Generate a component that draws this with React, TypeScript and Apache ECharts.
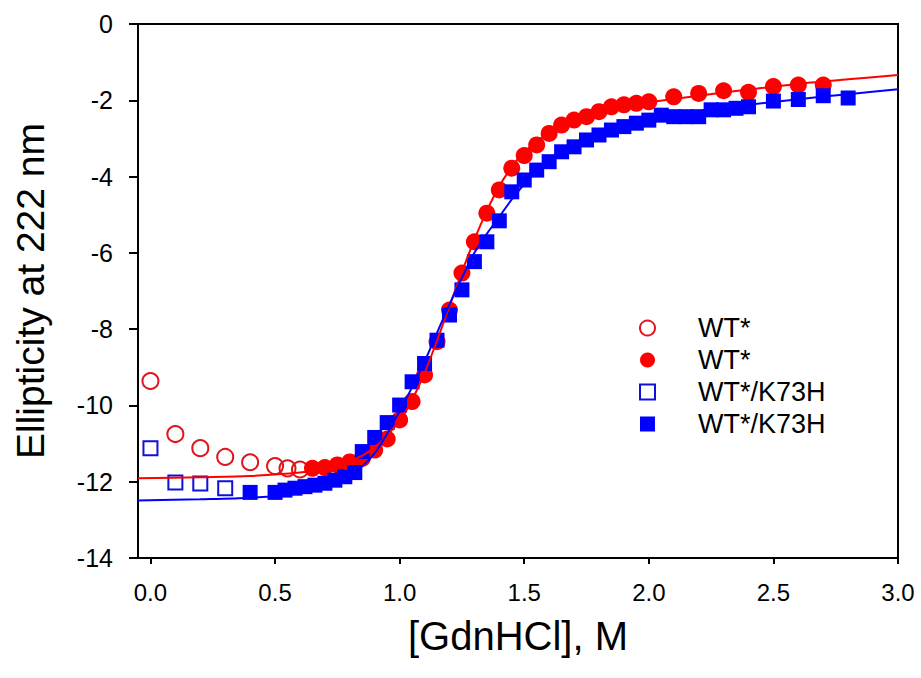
import React, { useEffect, useRef } from "react";
import * as echarts from "echarts";

// Tick positions
const xTicks = [0, 0.5, 1.0, 1.5, 2.0, 2.5, 3.0];

// WT* open circles
const wtOpenX = [0, 0.1, 0.2, 0.3, 0.4, 0.5, 0.55, 0.6];
const wtOpenY = [-9.36, -10.75, -11.12, -11.35, -11.49, -11.59, -11.65, -11.68];

// WT* filled circles
const wtX = [0.65, 0.7, 0.75, 0.8, 0.85, 0.9, 0.95, 1.0, 1.05, 1.1, 1.15, 1.2, 1.25, 1.3, 1.35, 1.4, 1.45, 1.5, 1.55, 1.6, 1.65, 1.7, 1.75, 1.8, 1.85, 1.9, 1.95, 2.0, 2.1, 2.2, 2.3, 2.4, 2.5, 2.6, 2.7];
const wtY = [-11.65, -11.63, -11.56, -11.48, -11.39, -11.17, -10.88, -10.38, -9.9, -9.2, -8.33, -7.5, -6.53, -5.71, -4.96, -4.35, -3.78, -3.45, -3.17, -2.87, -2.65, -2.52, -2.43, -2.3, -2.17, -2.12, -2.08, -2.04, -1.91, -1.82, -1.75, -1.79, -1.64, -1.6, -1.6];

// WT*/K73H open squares
const mutOpenX = [0, 0.1, 0.2, 0.3];
const mutOpenY = [-11.12, -12.02, -12.05, -12.17];

// WT*/K73H filled squares
const mutX = [0.4, 0.5, 0.54, 0.58, 0.62, 0.66, 0.7, 0.74, 0.78, 0.82, 0.85, 0.9, 0.95, 1.0, 1.05, 1.1, 1.15, 1.2, 1.25, 1.3, 1.35, 1.4, 1.45, 1.5, 1.55, 1.6, 1.65, 1.7, 1.75, 1.8, 1.85, 1.9, 1.95, 2.0, 2.05, 2.1, 2.15, 2.2, 2.25, 2.3, 2.35, 2.4, 2.5, 2.6, 2.7, 2.8];
const mutY = [-12.28, -12.28, -12.22, -12.17, -12.13, -12.09, -12.04, -11.96, -11.87, -11.76, -11.21, -10.84, -10.45, -9.99, -9.38, -8.9, -8.29, -7.63, -6.97, -6.23, -5.71, -5.16, -4.4, -4.09, -3.83, -3.61, -3.35, -3.22, -3.04, -2.91, -2.78, -2.69, -2.6, -2.52, -2.39, -2.43, -2.43, -2.43, -2.25, -2.25, -2.21, -2.17, -2.02, -1.98, -1.88, -1.94];

// Fit curves
const wtFitX = [-0.05, 0.2, 0.4, 0.6, 0.7, 0.8, 0.9, 1.0, 1.05, 1.1, 1.15, 1.2, 1.25, 1.3, 1.35, 1.4, 1.45, 1.5, 1.6, 1.7, 1.8, 1.9, 2.0, 2.2, 2.4, 2.6, 2.8, 3.0];
const wtFitY = [-11.91, -11.88, -11.85, -11.76, -11.66, -11.47, -11.1, -10.4, -9.85, -9.15, -8.3, -7.4, -6.5, -5.65, -4.9, -4.25, -3.75, -3.35, -2.85, -2.52, -2.3, -2.15, -2.05, -1.88, -1.72, -1.57, -1.45, -1.34];

const mutFitX = [-0.05, 0.2, 0.4, 0.6, 0.7, 0.8, 0.9, 1.0, 1.1, 1.15, 1.2, 1.25, 1.3, 1.35, 1.4, 1.45, 1.5, 1.6, 1.7, 1.8, 1.9, 2.0, 2.2, 2.4, 2.6, 2.8, 3.0];
const mutFitY = [-12.49, -12.46, -12.42, -12.3, -12.15, -11.85, -11.25, -10.15, -8.85, -8.1, -7.35, -6.65, -6.0, -5.5, -5.05, -4.6, -4.2, -3.55, -3.12, -2.85, -2.65, -2.5, -2.28, -2.12, -1.97, -1.84, -1.71];

const zip = (xs: number[], ys: number[]) => xs.map((x, i) => [x, ys[i]]);

const FONT = "Liberation Sans, Arial, sans-serif";
const RED = "#ff0000";
const BLUE = "#0000ff";

export default function App() {
  const ref = useRef<HTMLDivElement>(null);
  useEffect(() => {
    const chart = echarts.init(ref.current!, null, { renderer: "svg" });
    chart.setOption({
      animation: false,
      backgroundColor: "#ffffff",
      textStyle: { fontFamily: FONT },
      grid: {
        left: 138,
        right: 23,
        top: 24,
        bottom: 120,
        show: true,
        borderColor: "#000",
        borderWidth: 2,
        backgroundColor: "transparent",
      },
      legend: {
        orient: "vertical",
        left: 634,
        top: 307,
        itemWidth: 15,
        itemHeight: 15,
        itemGap: 0,
        data: ["WT*", "WT* ", "WT*/K73H", "WT*/K73H "],
        formatter: (n: string) => "{t|" + n.trim() + "}",
        textStyle: {
          fontSize: 27,
          color: "#000",
          fontFamily: FONT,
          lineHeight: 32,
          rich: {
            t: { fontSize: 27, color: "#000", fontFamily: FONT, lineHeight: 32, padding: [0, 0, 0, 38] },
          },
        },
      },
      xAxis: {
        type: "value",
        min: -0.05,
        max: 3.0,
        name: "[GdnHCl], M",
        nameLocation: "middle",
        nameGap: 58,
        nameTextStyle: { fontSize: 40, color: "#000", fontFamily: FONT },
        axisLine: { onZero: false, lineStyle: { color: "#000", width: 2 } },
        axisTick: { customValues: xTicks, length: 6, lineStyle: { color: "#000", width: 2 } },
        axisLabel: {
          customValues: xTicks,
          formatter: (v: number) => v.toFixed(1),
          fontSize: 24,
          color: "#000",
          margin: 22,
          fontFamily: FONT,
        },
        splitLine: { show: false },
      },
      yAxis: {
        type: "value",
        min: -14,
        max: 0,
        interval: 2,
        name: "Ellipticity at 222 nm",
        nameLocation: "middle",
        nameGap: 88,
        nameTextStyle: { fontSize: 39, color: "#000", fontFamily: FONT },
        axisLine: { onZero: false, lineStyle: { color: "#000", width: 2 } },
        axisTick: { length: 9, lineStyle: { color: "#000", width: 2 } },
        axisLabel: { fontSize: 25, color: "#000", margin: 25, fontFamily: FONT },
        splitLine: { show: false },
      },
      series: [
        {
          name: "WT*",
          type: "scatter",
          data: zip(wtOpenX, wtOpenY),
          symbol: "circle",
          symbolSize: 16,
          itemStyle: { color: "rgba(255,255,255,0)", borderColor: "#e0141c", borderWidth: 2, opacity: 1 },
          z: 3,
        },
        {
          name: "WT* ",
          type: "scatter",
          data: zip(wtX, wtY),
          symbol: "circle",
          symbolSize: 17,
          itemStyle: { color: RED, opacity: 1 },
          z: 3,
        },
        {
          name: "WT*/K73H",
          type: "scatter",
          data: zip(mutOpenX, mutOpenY),
          symbol: "rect",
          symbolSize: 14,
          itemStyle: { color: "rgba(255,255,255,0)", borderColor: "#1010d8", borderWidth: 2, opacity: 1 },
          z: 3,
        },
        {
          name: "WT*/K73H ",
          type: "scatter",
          data: zip(mutX, mutY),
          symbol: "rect",
          symbolSize: 15,
          itemStyle: { color: BLUE, opacity: 1 },
          z: 3,
        },
        {
          name: "fitWT",
          type: "line",
          data: zip(wtFitX, wtFitY),
          showSymbol: false,
          smooth: 0.3,
          lineStyle: { color: RED, width: 2 },
          z: 4,
        },
        {
          name: "fitMut",
          type: "line",
          data: zip(mutFitX, mutFitY),
          showSymbol: false,
          smooth: 0.3,
          lineStyle: { color: BLUE, width: 2 },
          z: 4,
        },
      ],
    });
    return () => chart.dispose();
  }, []);
  return (
    <div
      ref={ref}
      style={{ position: "absolute", left: 0, top: 0, width: 921, height: 678, background: "#fff" }}
    />
  );
}
